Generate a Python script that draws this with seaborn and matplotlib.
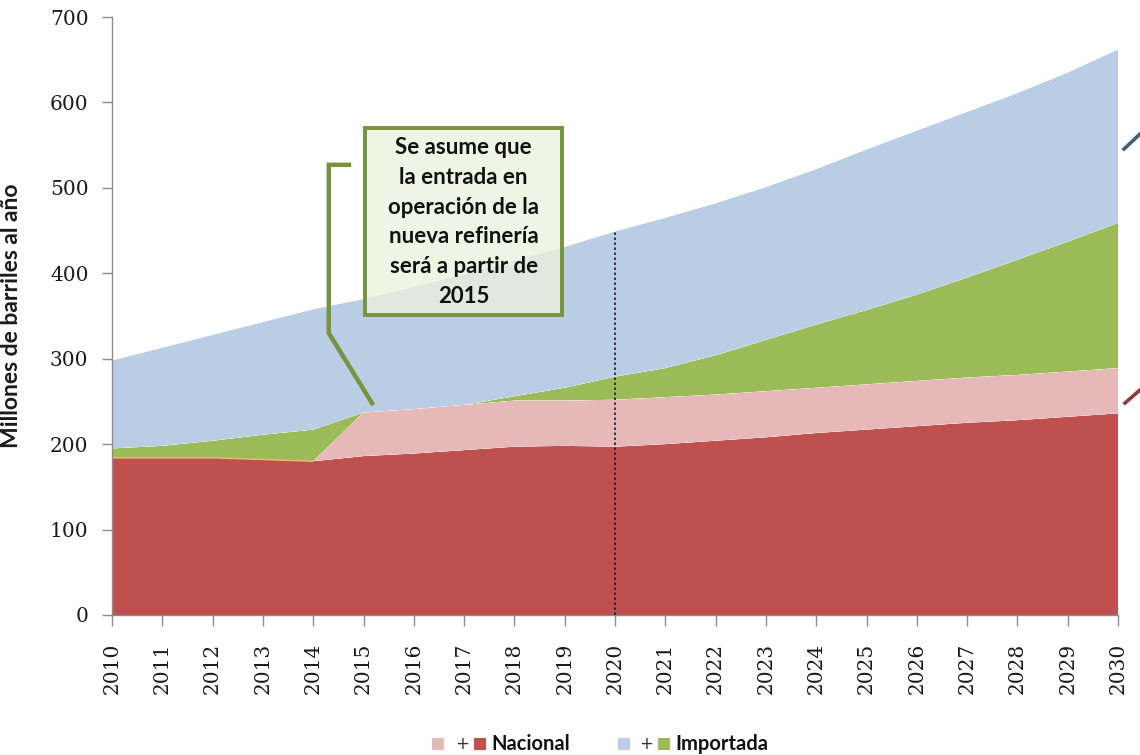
import matplotlib
matplotlib.use("Agg")
import matplotlib.pyplot as plt
from matplotlib.patches import Rectangle
from matplotlib.lines import Line2D
import numpy as np
import pandas as pd
import seaborn as sns
import seaborn.objects as so

# Años de la proyección
years = list(range(2010, 2031))

# Millones de barriles al año, por componente (capas apiladas de abajo hacia arriba)
nacional_existente = [184, 184, 184, 182, 180, 186, 189, 193, 197, 198, 197,
                      200, 204, 208, 213, 217, 221, 225, 228, 232, 236]
nacional_nueva_refineria = [0, 0, 0, 0, 0, 51, 52, 53, 54, 53, 55,
                            55, 54, 54, 53, 53, 53, 53, 53, 53, 53]
importada_verde = [11, 14, 20, 29, 37, 0, 0, 0, 5, 15, 27,
                   34, 46, 60, 74, 87, 101, 117, 135, 152, 170]
importada_azul = [103, 115, 124, 132, 141, 133, 143, 153, 159, 165, 170,
                  176, 178, 179, 182, 188, 192, 194, 195, 198, 203]

layer_names = ["nacional_existente", "nacional_nueva_refineria",
               "importada_verde", "importada_azul"]
layer_values = [nacional_existente, nacional_nueva_refineria,
                importada_verde, importada_azul]
layer_colors = {"nacional_existente": "#C0504D",
                "nacional_nueva_refineria": "#E6B9B8",
                "importada_verde": "#9BBB59",
                "importada_azul": "#B9CDE5"}

y_ticks = list(range(0, 701, 100))

# Tabla larga: para cada año, las capas en orden de apilado
rows = []
for i, yr in enumerate(years):
    for name, vals in zip(layer_names, layer_values):
        rows.append({"anio": yr, "capa": name, "valor": vals[i]})
df = pd.DataFrame(rows)

W, H = 1140, 755
fig = plt.figure(figsize=(W / 100, H / 100), dpi=100)
ax = fig.add_axes([112 / W, 1 - 615 / H, (1118 - 112) / W, (615 - 17) / H])

(
    so.Plot(df, x="anio", y="valor", color="capa")
    .add(so.Area(alpha=1, edgewidth=0), so.Stack())
    .scale(color=so.Nominal(layer_colors, order=layer_names))
    .limit(x=(2010, 2030), y=(0, 700))
    .theme(sns.axes_style("ticks"))
    .on(ax)
    .plot()
)
fig.legends.clear()

# Borde fino de la capa nacional antes de la nueva refinería
nacional_total = np.array(nacional_existente) + np.array(nacional_nueva_refineria)
pre = pd.DataFrame({"anio": years[:5], "valor": nacional_total[:5]})
sns.lineplot(data=pre, x="anio", y="valor", ax=ax, color="#EDB97A",
             linewidth=1.0, legend=False)

# Línea punteada en 2020 hasta el total de ese año
total = np.sum(np.array(layer_values), axis=0)
i2020 = years.index(2020)
ax.vlines(2020, 0, total[i2020], colors="#1A1A33", linestyles=(0, (1.5, 1.5)),
          linewidth=1.2, zorder=5)

# Ejes
ax.set_facecolor("white")
ax.grid(False)
ax.set_xlim(2010, 2030)
ax.set_ylim(0, 700)
for side in ("top", "right"):
    ax.spines[side].set_visible(False)
for side in ("left", "bottom"):
    ax.spines[side].set_color("#8C8C8C")
    ax.spines[side].set_linewidth(1.0)
ax.set_yticks(y_ticks)
ax.set_yticklabels([str(v) for v in y_ticks])
ax.set_xticks(years)
ax.set_xticklabels([str(y) for y in years], rotation=90)
ax.tick_params(axis="y", length=7, width=1, color="#8C8C8C", pad=10,
               labelsize=14.5)
ax.tick_params(axis="x", length=8, width=1, color="#8C8C8C", pad=12,
               labelsize=14.5)
for lab in ax.get_xticklabels() + ax.get_yticklabels():
    lab.set_fontfamily("DejaVu Serif")
    lab.set_color("#1A1A1A")
ax.set_xlabel("")
ax.set_ylabel("Millones de barriles al año", fontsize=16.5, fontweight="bold",
              fontfamily="Lato", color="#1A1A1A")
ax.yaxis.set_label_coords((22 - 112) / (1118 - 112), 0.5)

# Cuadro de comentario con su conector
green_dark = "#77933C"
box = Rectangle((2015.03, 351), 3.92, 219, transform=ax.transData,
                facecolor=(0.93, 0.95, 0.87), alpha=0.78, edgecolor="none",
                zorder=6)
ax.add_patch(box)
ax.add_patch(Rectangle((2015.03, 351), 3.92, 219, transform=ax.transData,
                       facecolor="none", edgecolor=green_dark, linewidth=2.8,
                       zorder=7))
ax.text(2016.99, 460, "Se asume que\nla entrada en\noperación de la\n"
        "nueva refinería\nserá a partir de\n2015",
        ha="center", va="center", fontsize=16, fontfamily="Lato",
        fontweight="bold", color="#111111", linespacing=1.52, zorder=8)
ax.plot([2014.71, 2014.31, 2014.31, 2015.17], [527, 527, 330, 248],
        color=green_dark, linewidth=3.2, solid_joinstyle="miter",
        clip_on=False, zorder=7)

# Trazos de llamadas fuera del área de trazado
fig.add_artist(Line2D([1124 / W, 1140 / W], [1 - 149 / H, 1 - 134 / H],
                      color="#4A5D75", linewidth=2.6))
fig.add_artist(Line2D([1125 / W, 1140 / W], [1 - 403 / H, 1 - 390 / H],
                      color="#8E3B3B", linewidth=2.6))

# Leyenda compuesta
def square(x0, color):
    fig.add_artist(Rectangle((x0 / W, 1 - 750 / H), 12 / W, 12 / H,
                             transform=fig.transFigure, facecolor=color,
                             edgecolor="none"))

leg_font = dict(fontsize=14.5, fontfamily="Lato", fontweight="bold",
                color="#111111", va="center")
plus_font = dict(fontsize=12, fontfamily="DejaVu Sans", color="#333333",
                 va="center", ha="center")
ly = 1 - 744 / H
square(432, "#E6B9B8")
fig.text(462 / W, ly, "+", **plus_font)
square(474, "#C0504D")
fig.text(491 / W, ly, "Nacional", ha="left", **leg_font)
square(618, "#B9CDE5")
fig.text(646 / W, ly, "+", **plus_font)
square(658, "#9BBB59")
fig.text(675 / W, ly, "Importada", ha="left", **leg_font)

fig.savefig("out.png", dpi=100, facecolor="white")
